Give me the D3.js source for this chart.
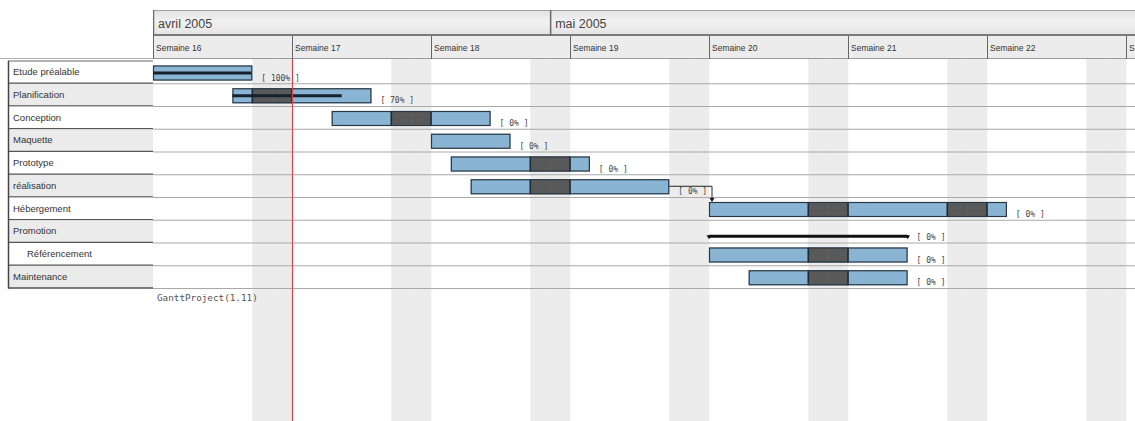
<!DOCTYPE html>
<html>
<head>
<meta charset="utf-8">
<script src="https://cdn.jsdelivr.net/npm/d3@7"></script>
<style>
html,body{margin:0;padding:0;background:#fff;}
svg{display:block;}
</style>
</head>
<body>
<svg id="chart" width="1135" height="421"></svg>
<script>
// ---------- data ----------
const taskNames = ["Etude préalable","Planification","Conception","Maquette","Prototype","réalisation","Hébergement","Promotion","Référencement","Maintenance"];
const taskStarts = ["2005-04-11","2005-04-15","2005-04-20","2005-04-25","2005-04-26","2005-04-27","2005-05-09","2005-05-09","2005-05-09","2005-05-11"];
const taskEnds   = ["2005-04-16","2005-04-22","2005-04-28","2005-04-29","2005-05-03","2005-05-07","2005-05-24","2005-05-19","2005-05-19","2005-05-19"];
const taskProgress = [100,70,0,0,0,0,0,0,0,0];
const taskIsSummary = [false,false,false,false,false,false,false,true,false,false];
const taskIndent = [0,0,0,0,0,0,0,0,1,0];
const dependencies = [{from:"réalisation", to:"Hébergement"}];
const monthStarts = ["2005-04-01","2005-05-01"];
const monthLabels = ["avril 2005","mai 2005"];
const weekStarts = ["2005-04-11","2005-04-18","2005-04-25","2005-05-02","2005-05-09","2005-05-16","2005-05-23","2005-05-30"];
const weekLabels = ["Semaine 16","Semaine 17","Semaine 18","Semaine 19","Semaine 20","Semaine 21","Semaine 22","Semaine 23"];
const viewStart = "2005-04-11";
const viewEnd = "2005-06-06";
const todayDate = "2005-04-18";
const footerText = "GanttProject(1.11)";

// ---------- setup ----------
const P = d3.utcParse("%Y-%m-%d");
const svg = d3.select("#chart");
const W = 1135, H = 421;
const chartLeft = 153, dayW = 139/7;
const d0 = P(viewStart), d1 = P(viewEnd);
const x = d3.scaleUtc().domain([d0, d1]).range([chartLeft, chartLeft + d3.utcDay.count(d0, d1) * dayW]);
const rowTop0 = 61, rowH = 22.75;
const y = d3.scaleBand().domain(taskNames).range([rowTop0, rowTop0 + rowH * taskNames.length]).padding(0);
const isWeekend = d => d.getUTCDay() === 0 || d.getUTCDay() === 6;

const defs = svg.append("defs");
const g1 = defs.append("linearGradient").attr("id","mhead").attr("x1",0).attr("x2",0).attr("y1",0).attr("y2",1);
g1.append("stop").attr("offset","0%").attr("stop-color","#e2e2e2");
g1.append("stop").attr("offset","45%").attr("stop-color","#f1f1f1");
g1.append("stop").attr("offset","100%").attr("stop-color","#e4e4e4");
const clip = defs.append("clipPath").attr("id","cclip");
clip.append("rect").attr("x",chartLeft).attr("y",0).attr("width",W-chartLeft).attr("height",H);

const chart = svg.append("g").attr("clip-path","url(#cclip)");

// weekend columns
const days = d3.utcDay.range(d0, d1);
chart.append("g").selectAll("rect").data(days.filter(isWeekend)).join("rect")
  .attr("x", d => x(d)).attr("width", dayW + 0.3)
  .attr("y", 59).attr("height", H - 59)
  .attr("fill", "#ececec");

// row lines in chart area
chart.append("g").selectAll("line").data(taskNames).join("line")
  .attr("x1", chartLeft).attr("x2", W)
  .attr("y1", d => y(d) + y.bandwidth()).attr("y2", d => y(d) + y.bandwidth())
  .attr("stroke", "#a9a9a9").attr("stroke-width", 1.2);

// ---------- header ----------
const hdr = svg.append("g").attr("clip-path","url(#cclip)");
hdr.append("rect").attr("x", chartLeft).attr("y", 10).attr("width", W - chartLeft).attr("height", 25)
  .attr("fill", "url(#mhead)");
hdr.append("line").attr("x1", chartLeft).attr("x2", W).attr("y1", 10.5).attr("y2", 10.5).attr("stroke", "#a0a0a0");
hdr.append("rect").attr("x", chartLeft).attr("y", 35).attr("width", W - chartLeft).attr("height", 23)
  .attr("fill", "#ececec");
hdr.append("line").attr("x1", chartLeft).attr("x2", W).attr("y1", 35).attr("y2", 35).attr("stroke", "#7a7a7a").attr("stroke-width", 2);
hdr.append("line").attr("x1", chartLeft).attr("x2", W).attr("y1", 58.5).attr("y2", 58.5).attr("stroke", "#9a9a9a");

const months = monthStarts.map((s,i) => ({d: P(s) < d0 ? d0 : P(s), label: monthLabels[i]}));
hdr.selectAll(".mline").data(months).join("line")
  .attr("x1", d => x(d.d) + 0.5).attr("x2", d => x(d.d) + 0.5)
  .attr("y1", 10).attr("y2", 36).attr("stroke", "#6a6a6a").attr("stroke-width", 1.5);
hdr.selectAll(".mtext").data(months).join("text")
  .attr("x", d => x(d.d) + 5).attr("y", 28)
  .attr("font-family", "Liberation Sans, Arial, sans-serif").attr("font-size", 12.5)
  .attr("fill", "#444").text(d => d.label);

const weeks = weekStarts.map((s,i) => ({d: P(s), label: weekLabels[i]}));
hdr.selectAll(".wline").data(weeks).join("line")
  .attr("x1", d => x(d.d) + 0.5).attr("x2", d => x(d.d) + 0.5)
  .attr("y1", 36).attr("y2", 59).attr("stroke", "#666").attr("stroke-width", 1);
hdr.selectAll(".wtext").data(weeks).join("text")
  .attr("x", d => x(d.d) + 3).attr("y", 51)
  .attr("font-family", "Liberation Sans, Arial, sans-serif").attr("font-size", 8.5)
  .attr("fill", "#333").text(d => d.label);

// ---------- left table ----------
svg.append("line").attr("x1", 0).attr("x2", chartLeft).attr("y1", 58.5).attr("y2", 58.5).attr("stroke", "#b0b0b0");
const tbl = svg.append("g");
const rowsG = tbl.selectAll("g").data(taskNames).join("g");
rowsG.append("rect").attr("x", 8).attr("y", d => y(d)).attr("width", chartLeft - 8).attr("height", y.bandwidth())
  .attr("fill", (d,i) => i % 2 ? "#ebebeb" : "#ffffff");
rowsG.append("line").attr("x1", 8).attr("x2", chartLeft)
  .attr("y1", d => y(d) + y.bandwidth() - 0.5).attr("y2", d => y(d) + y.bandwidth() - 0.5)
  .attr("stroke", "#555").attr("stroke-width", 1.6);
rowsG.append("text").attr("x", (d,i) => 13 + taskIndent[i] * 14).attr("y", d => y(d) + 14)
  .attr("font-family", "Liberation Sans, Arial, sans-serif").attr("font-size", 9.5)
  .attr("fill", "#333").text(d => d);
tbl.append("line").attr("x1", 8).attr("x2", chartLeft).attr("y1", rowTop0).attr("y2", rowTop0).attr("stroke", "#666").attr("stroke-width", 1.2);
tbl.append("line").attr("x1", 8.5).attr("x2", 8.5).attr("y1", rowTop0).attr("y2", y.range()[1]).attr("stroke", "#444").attr("stroke-width", 1.5);

// ---------- tasks ----------
const tasks = taskNames.map((n,i) => ({
  name: n, start: P(taskStarts[i]), end: P(taskEnds[i]),
  progress: taskProgress[i], summary: taskIsSummary[i]
}));
const bars = svg.append("g");
const barOff = 4.5, barH = 15;

tasks.forEach(t => {
  const g = bars.append("g");
  const top = y(t.name);
  if (t.summary) {
    const ly = top + 16;
    g.append("line").attr("x1", x(t.start)).attr("x2", x(t.end)).attr("y1", ly).attr("y2", ly)
      .attr("stroke", "#111").attr("stroke-width", 3);
    [t.start, t.end].forEach(d => {
      g.append("path").attr("d", `M${x(d)-2.5},${ly-1} L${x(d)+2.5},${ly-1} L${x(d)},${ly+3} Z`).attr("fill", "#111");
    });
  } else {
    g.append("rect").attr("x", x(t.start)).attr("y", top + barOff)
      .attr("width", x(t.end) - x(t.start)).attr("height", barH)
      .attr("fill", "#8ab4d3");
    const wk = d3.utcDay.range(t.start, t.end).filter(isWeekend);
    g.selectAll(".we").data(wk).join("rect")
      .attr("x", d => x(d)).attr("y", top + barOff).attr("width", dayW + 0.3).attr("height", barH)
      .attr("fill", "#595959");
    // borders between blue and dark parts
    const edges = [];
    wk.forEach(d => {
      const prev = d3.utcDay.offset(d, -1), next = d3.utcDay.offset(d, 1);
      if (!isWeekend(prev) && prev >= t.start) edges.push(d);
      if (!isWeekend(next) && next < t.end) edges.push(next);
    });
    g.selectAll(".ed").data(edges).join("line")
      .attr("x1", d => x(d)).attr("x2", d => x(d)).attr("y1", top + barOff).attr("y2", top + barOff + barH)
      .attr("stroke", "#1d2a36").attr("stroke-width", 1.6);
    g.append("rect").attr("x", x(t.start) + 0.5).attr("y", top + barOff + 0.5)
      .attr("width", x(t.end) - x(t.start) - 1).attr("height", barH - 1)
      .attr("fill", "none").attr("stroke", "#2a3744").attr("stroke-width", 1.2);
    if (t.progress > 0) {
      // progress measured in working days
      const work = d3.utcDay.range(t.start, t.end).filter(d => !isWeekend(d));
      let remain = work.length * t.progress / 100;
      let pe = t.start;
      for (const d of d3.utcDay.range(t.start, t.end)) {
        if (isWeekend(d)) continue;
        if (remain >= 1) { remain -= 1; pe = d3.utcDay.offset(d, 1); }
        else { pe = new Date(d.getTime() + remain * 864e5); remain = 0; break; }
      }
      const pex = x(pe) - (t.progress === 100 ? 1 : 0);
      g.append("line").attr("x1", x(t.start)).attr("x2", pex)
        .attr("y1", top + barOff + barH / 2).attr("y2", top + barOff + barH / 2)
        .attr("stroke", "#15212d").attr("stroke-width", 3);
    }
  }
  g.append("text").attr("x", x(t.end) + 9).attr("y", top + 19.5)
    .attr("font-family", "DejaVu Sans Mono, monospace").attr("font-size", 8)
    .attr("fill", "#444").attr("xml:space","preserve").text(`[ ${t.progress}% ]`);
});

// dependencies
const byName = Object.fromEntries(tasks.map(t => [t.name, t]));
dependencies.forEach(dep => {
  const a = byName[dep.from], b = byName[dep.to];
  const sx = x(a.end), sy = y(a.name) + barOff + barH / 2 - 0.5;
  const tx = x(b.start) + 3, ty = y(b.name) + barOff;
  bars.append("path").attr("d", `M${sx},${sy} H${tx} V${ty - 3}`)
    .attr("fill", "none").attr("stroke", "#222").attr("stroke-width", 1);
  bars.append("path").attr("d", `M${tx-2.5},${ty-4} L${tx+2.5},${ty-4} L${tx},${ty} Z`).attr("fill", "#111");
});

// today line
svg.append("line").attr("x1", x(P(todayDate)) + 0.5).attr("x2", x(P(todayDate)) + 0.5)
  .attr("y1", 59).attr("y2", H).attr("stroke", "#e0414b").attr("stroke-width", 1.2);

// footer
svg.append("text").attr("x", 157).attr("y", 301)
  .attr("font-family", "DejaVu Sans Mono, monospace").attr("font-size", 9.3)
  .attr("fill", "#555").text(footerText);
</script>
</body>
</html>
